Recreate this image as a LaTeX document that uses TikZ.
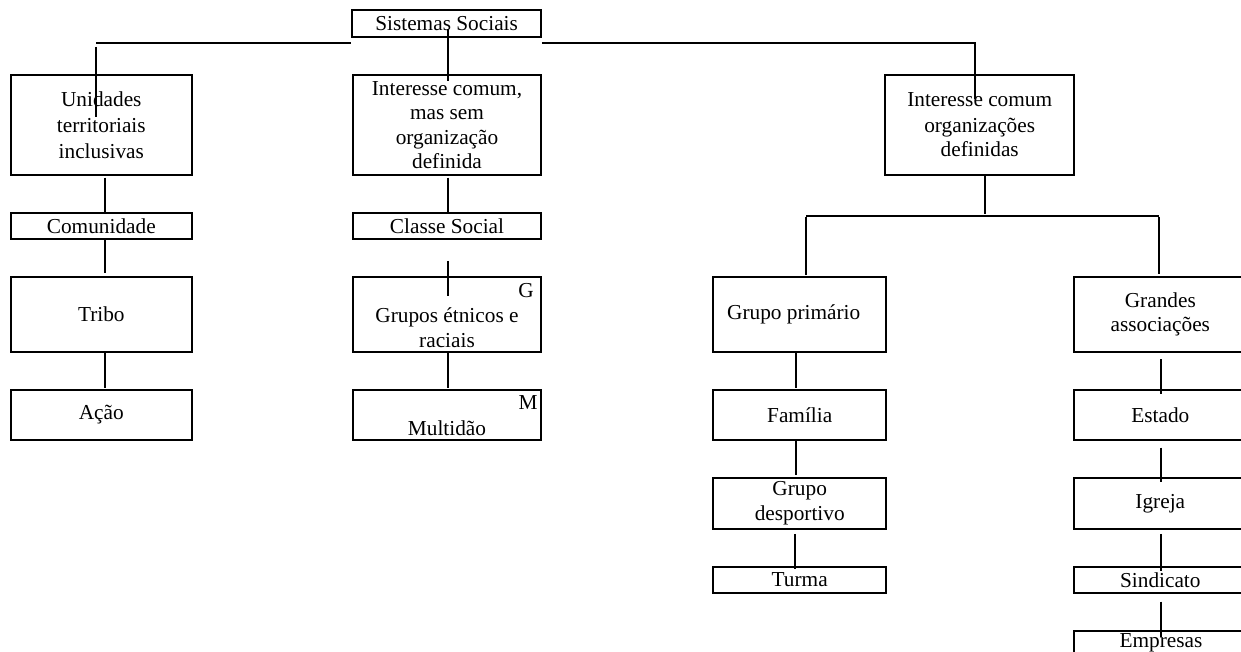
\documentclass[tikz,border=0pt]{standalone}
\usepackage{fontspec}
\setmainfont{Liberation Serif}
\begin{document}
\begin{tikzpicture}[x=1pt,y=-1pt,
  font=\fontsize{21.3}{24.5}\selectfont,
  bx/.style={draw, line width=2pt, inner sep=0pt, align=center},
  cn/.style={line width=1.9pt},
  lbl/.style={inner sep=0pt},
  colA/.style={bx, minimum width=181.3pt},
  colB/.style={bx, minimum width=188pt},
  colC/.style={bx, minimum width=173.4pt},
  colD/.style={bx, minimum width=173.4pt}]
\useasboundingbox (0,0) rectangle (1241,652);
\clip (0,0) rectangle (1241,652);
\fill[white] (0,0) rectangle (1241,652);

% top
\node[bx, minimum width=188.3pt, minimum height=26.2pt] (sis) at (446.6,23.5) {Sistemas Sociais};

% level 1
\node[colA, minimum height=100pt] (uni) at (101.3,125) {Unidades\\[1.5pt]territoriais\\[1.5pt]inclusivas};
\node[colB, minimum height=100pt] (icm) at (447,125) {Interesse comum,\\mas sem\\organização\\definida};
\node[bx, minimum width=188.5pt, minimum height=100pt] (ico) at (979.7,125) {Interesse comum\\[1pt]organizações\\definidas};

% left column
\node[colA, minimum height=26.3pt] (com) at (101.3,225.8) {Comunidade};
\node[colA, minimum height=75.6pt] (tri) at (101.3,314.5) {Tribo};
\node[colA, minimum height=50pt] (aca) at (101.3,415) {Ação};

% middle column
\node[colB, minimum height=26.3pt] (cls) at (447,225.8) {Classe Social};
\node[colB, minimum height=75.6pt] (grp) at (447,314.5) {\strut\\Grupos étnicos e\\raciais};
\node[lbl] (gG) at (526,291) {G};
\node[colB, minimum height=50pt] (mul) at (447,415) {\strut\\Multidão};
\node[lbl] (gM) at (528,403) {M};

% right-left column
\node[colC, minimum height=75.6pt] (gpr) at (799.7,314.5) {Grupo primário\hspace{12pt}};
\node[colC, minimum height=50pt] (fam) at (799.7,415) {Família};
\node[colC, minimum height=51.3pt] (gde) at (799.7,503.3) {Grupo\\desportivo};
\node[colC, minimum height=26.3pt] (tur) at (799.7,579.8) {Turma};

% right-right column
\node[colD, minimum height=75.6pt] (gra) at (1160.3,314.5) {Grandes\\associações};
\node[colD, minimum height=50pt] (est) at (1160.3,415) {Estado};
\node[colD, minimum height=51.3pt] (igr) at (1160.3,503.3) {Igreja};
\node[colD, minimum height=26.3pt] (sin) at (1160.3,579.8) {Sindicato};
\node[colD, minimum height=49.3pt] (emp) at (1160.3,655.3) {};
\node[anchor=base, lbl] (temp) at (1161,647) {Empresas};

% connectors from the top box
\coordinate (hl) at (96,43);
\coordinate (hr) at (975,43);
\draw[cn] ([shift={(1.4,-8.6)}]sis.south) -- ([shift={(1,7)}]icm.north);
\draw[cn] (hl) -- (hl -| sis.west);
\draw[cn] (sis.east |- hr) -- (hr) -- ([shift={(-4.7,25)}]ico.north);
\draw[cn] ([shift={(-5.3,-27)}]uni.north) -- ([shift={(-5.3,43)}]uni.north);

% left column
\draw[cn] ([shift={(3.5,1.7)}]uni.south) -- ([shift={(3.5,0.3)}]com.north);
\draw[cn] ([xshift=3.5pt]com.south) -- ([shift={(3.5,-2.7)}]tri.north);
\draw[cn] ([xshift=3.5pt]tri.south) -- ([shift={(3.5,-0.7)}]aca.north);

% middle column
\draw[cn] ([shift={(1,1.7)}]icm.south) -- ([shift={(1,0.3)}]cls.north);
\draw[cn] ([shift={(1,21)}]cls.south) -- ([shift={(1,20.6)}]grp.north);
\draw[cn] ([xshift=1pt]grp.south) -- ([shift={(1,-0.7)}]mul.north);

% right part
\coordinate (bl) at (806,216);
\coordinate (br) at (1159,216);
\draw[cn] ([xshift=5.3pt]ico.south) -- ([shift={(5.3,38)}]ico.south);
\draw[cn] (bl) -- (br);
\draw[cn] ([shift={(6.3,-58.7)}]gpr.north) -- ([shift={(6.3,-0.7)}]gpr.north);
\draw[cn] ([shift={(-1.3,-58.7)}]gra.north) -- ([shift={(-1.3,-1.7)}]gra.north);

\draw[cn] ([xshift=-4pt]gpr.south) -- ([shift={(-4,-1)}]fam.north);
\draw[cn] ([xshift=-4pt]fam.south) -- ([shift={(-4,-1.7)}]gde.north);
\draw[cn] ([shift={(-4.7,4)}]gde.south) -- ([shift={(-4.7,3.3)}]tur.north);

\draw[cn] ([shift={(0.7,5.7)}]gra.south) -- ([shift={(0.7,5)}]est.north);
\draw[cn] ([shift={(0.7,6.7)}]est.south) -- ([shift={(0.7,5.6)}]igr.north);
\draw[cn] ([shift={(0.7,4)}]igr.south) -- ([shift={(0.7,5)}]sin.north);
\draw[cn] ([shift={(0.7,7.7)}]sin.south) -- ([shift={(0.7,7.6)}]emp.north);
\end{tikzpicture}
\end{document}
